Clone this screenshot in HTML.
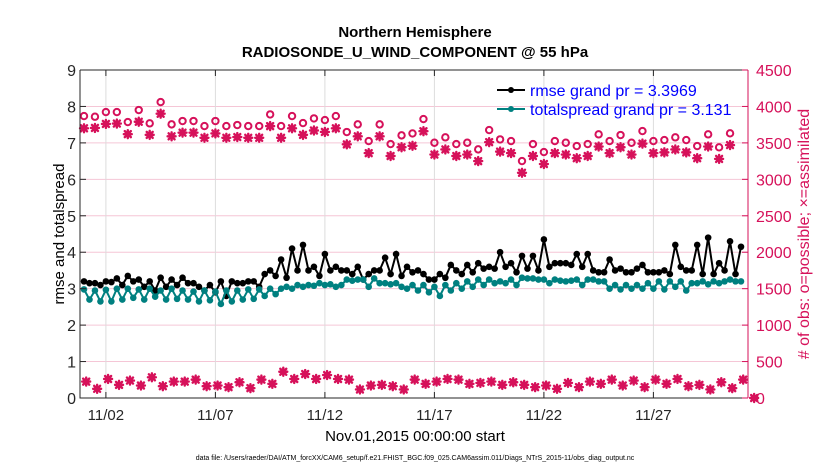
<!DOCTYPE html>
<html><head><meta charset="utf-8"><style>
body{margin:0;background:#fff;}
svg{display:block;font-family:"Liberation Sans",Arial,sans-serif;}
</style></head><body>
<svg id="chart" width="830" height="470" viewBox="0 0 830 470">
<rect width="830" height="470" fill="#fff"/>
<text x="415" y="37" text-anchor="middle" font-size="15" font-weight="bold" fill="#000">Northern Hemisphere</text>
<text x="415" y="57" text-anchor="middle" font-size="15" font-weight="bold" fill="#000">RADIOSONDE_U_WIND_COMPONENT @ 55 hPa</text>
<g id="grid"></g>
<g id="marks"></g>
<g id="axes"></g>
<text transform="translate(64,234) rotate(-90)" text-anchor="middle" font-size="15" fill="#000">rmse and totalspread</text>
<text transform="translate(809,234) rotate(-90)" text-anchor="middle" font-size="16" fill="#d6115a"># of obs: o=possible; ×=assimilated</text>
<text x="415" y="441" text-anchor="middle" font-size="15" fill="#000">Nov.01,2015 00:00:00 start</text>
<text x="415" y="460" text-anchor="middle" font-size="7" fill="#000">data file: /Users/raeder/DAI/ATM_forcXX/CAM6_setup/f.e21.FHIST_BGC.f09_025.CAM6assim.011/Diags_NTrS_2015-11/obs_diag_output.nc</text>
<g>
<g>
<line x1="497" y1="90" x2="525" y2="90" stroke="#000" stroke-width="2"/><circle cx="511" cy="90" r="3" fill="#000"/>
<text x="530" y="96" font-size="16" fill="#0000ff">rmse grand pr = 3.3969</text></g>
<g>
<line x1="497" y1="109" x2="525" y2="109" stroke="#008080" stroke-width="2"/><circle cx="511" cy="109" r="3" fill="#008080"/>
<text x="530" y="115" font-size="16" fill="#0000ff">totalspread grand pr = 3.131</text></g>
</g>
</svg>
<script>
const rmse=[3.2,3.15,3.15,3.1, 3.2,3.18,3.28,3.1, 3.35,3.2,3.25,3.05, 3.2,2.95,3.3,3.05, 3.25,3.1,3.3,3.15, 3.15,3.05,2.95,3.1, 2.9,3.2,2.8,3.2, 3.15,3.15,3.2,3.2, 3.05,3.4,3.5,3.35, 3.8,3.3,4.1,3.5, 4.2,3.5,3.6,3.35, 3.95,3.5,3.6,3.5, 3.5,3.4,3.6,3.25, 3.4,3.5,3.5,3.85, 3.4,3.95,3.35,3.6, 3.45,3.5,3.4,3.25, 3.25,3.4,3.3,3.65, 3.5,3.4,3.65,3.45, 3.7,3.55,3.6,3.55, 4.0,3.6,3.7,3.45, 3.9,3.55,3.9,3.5, 4.35,3.6,3.7,3.7, 3.7,3.65,3.95,3.6, 3.95,3.5,3.45,3.45, 3.8,3.5,3.55,3.45, 3.45,3.55,3.65,3.45, 3.45,3.45,3.5,3.4, 4.2,3.6,3.5,3.5, 4.2,3.4,4.4,3.4, 3.7,3.5,4.3,3.4, 4.15];
const spread=[2.98,2.7,2.95,2.65, 2.97,2.65,3.0,2.7, 3.0,2.75,2.98,2.7, 3.0,2.78,2.95,2.7, 3.0,2.72,2.95,2.7, 2.92,2.65,2.95,2.68, 2.92,2.58,2.95,2.65, 2.95,2.7,2.98,2.72, 2.98,2.8,3.0,2.85, 3.0,3.05,3.0,3.1, 3.05,3.1,3.08,3.15, 3.1,3.12,3.05,3.1, 3.25,3.22,3.25,3.25, 3.05,3.28,3.15,3.15, 3.12,3.15,3.05,3.0, 3.1,2.95,3.1,2.9, 3.05,2.8,3.1,2.95, 3.15,3.0,3.2,3.05, 3.25,3.1,3.25,3.15, 3.2,3.15,3.25,3.1, 3.3,3.28,3.28,3.25, 3.25,3.15,3.25,3.22, 3.2,3.22,3.25,3.1, 3.25,3.25,3.2,3.2, 3.0,3.1,2.98,3.1, 3.0,3.1,3.0,3.15, 3.0,3.2,2.98,3.2, 3.05,3.2,2.95,3.15, 3.15,3.2,3.12,3.2, 3.15,3.2,3.25,3.2, 3.2];
const possible=[3868,3859,3923,3923,3786,3951,3768,4060,3754,3800,3800,3731,3800,3731,3745,3731,3731,3891,3731,3868,3772,3836,3813,3868,3649,3754,3525,3754,3484,3603,3630,3827,3502,3576,3484,3502,3411,3676,3548,3525,3251,3484,3374,3525,3502,3457,3484,3617,3525,3608,3502,3662,3525,3539,3576,3539,3457,3617,3439,3631];
const assimilated=[3700,3705,3760,3765,3620,3790,3610,3900,3590,3640,3640,3570,3630,3570,3580,3570,3570,3730,3570,3700,3610,3670,3650,3700,3480,3590,3360,3590,3320,3440,3460,3660,3340,3410,3320,3340,3250,3510,3380,3360,3090,3320,3210,3360,3340,3290,3320,3450,3360,3440,3340,3490,3360,3370,3410,3370,3290,3450,3280,3470];
const bottomObs=[225,126,261,180,239,171,284,162,225,225,252,162,171,149,216,135,252,194,360,261,329,261,315,261,252,117,171,180,162,117,252,194,225,261,252,194,207,225,180,216,180,149,171,126,207,149,225,194,252,171,239,149,252,194,261,162,180,117,216,135,252,0];
const leftTicks=[0,1,2,3,4,5,6,7,8,9];
const rightTicks=[0,500,1000,1500,2000,2500,3000,3500,4000,4500];
const xTickDays=[1,6,11,16,21,26];
const xTickLabels=["11/02","11/07","11/12","11/17","11/22","11/27"];

const L=80,R=748,T=70,B=398;
const X=d=>84+d*21.9;
const YL=v=>B-(v/9)*(B-T);
const YR=v=>B-(v/4500)*(B-T);
const NS="http://www.w3.org/2000/svg";
function mk(parent,tag,attrs){const e=document.createElementNS(NS,tag);for(const k in attrs)e.setAttribute(k,attrs[k]);parent.appendChild(e);return e;}
const grid=document.getElementById('grid'),marks=document.getElementById('marks'),axes=document.getElementById('axes');
const pink="#d6115a";

rightTicks.forEach(v=>{if(v>0&&v<4500){const g=mk(grid,'line',{x1:L,x2:R,y1:YR(v),y2:YR(v),stroke:'#f5c6d6','stroke-width':1});

}});
xTickDays.forEach(d=>{const g=mk(grid,'line',{x1:X(d),x2:X(d),y1:T,y2:B,stroke:'#dcdcdc','stroke-width':1});

});

function line(vals,color,name){
 const pts=vals.map((v,i)=>X(i*0.25).toFixed(1)+','+YL(v).toFixed(1)).join(' ');
 const p=mk(marks,'polyline',{points:pts,fill:'none',stroke:color,'stroke-width':2});
 
 
 vals.forEach((v,i)=>{const c=mk(marks,'circle',{cx:X(i*0.25),cy:YL(v),r:3.3,fill:color});
 
 });
}
function star(x,y,name){
 const g=mk(marks,'path',{d:`M${x-4},${y}H${x+4}M${x},${y-4}V${y+4}M${x-3},${y-3}L${x+3},${y+3}M${x-3},${y+3}L${x+3},${y-3}`,stroke:pink,'stroke-width':2.4,'stroke-linecap':'round'});
 
 
}
possible.forEach((v,i)=>{const c=mk(marks,'circle',{cx:X(i*0.5),cy:YR(v),r:3.2,fill:'none',stroke:pink,'stroke-width':2});

});
assimilated.forEach((v,i)=>star(X(i*0.5),YR(v),'assimilated-obs-marker'));
bottomObs.forEach((v,i)=>{const x=X(i*0.5+0.1),y=YR(v);
star(x,y,'bottom-obs-marker');
const c=mk(marks,'circle',{cx:x,cy:y,r:3,fill:pink});

});
line(rmse,'#000','rmse');
line(spread,'#008080','totalspread');

const box=mk(axes,'path',{d:`M${L},${T}H${R}M${L},${T}V${B}H${R}`,fill:'none',stroke:'#262626','stroke-width':1});


const ra=mk(axes,'line',{x1:R,x2:R,y1:T,y2:B,stroke:pink,'stroke-width':1});


leftTicks.forEach(v=>{const y=YL(v);
mk(axes,'line',{x1:L,x2:L+6,y1:y,y2:y,stroke:'#262626'});
const t=mk(axes,'text',{x:L-4,y:y+6,'text-anchor':'end','font-size':16,fill:'#262626'});t.textContent=v;

});
rightTicks.forEach(v=>{const y=YR(v);
mk(axes,'line',{x1:R-6,x2:R,y1:y,y2:y,stroke:pink});
const t=mk(axes,'text',{x:R+8,y:y+6,'font-size':16,fill:pink});t.textContent=v;

});
xTickDays.forEach((d,i)=>{const x=X(d);
mk(axes,'line',{x1:x,x2:x,y1:B,y2:B-6,stroke:'#262626'});
mk(axes,'line',{x1:x,x2:x,y1:T,y2:T+6,stroke:'#262626'});
const t=mk(axes,'text',{x:x,y:B+22,'text-anchor':'middle','font-size':15,fill:'#262626'});t.textContent=xTickLabels[i];

});
</script>
</body></html>
